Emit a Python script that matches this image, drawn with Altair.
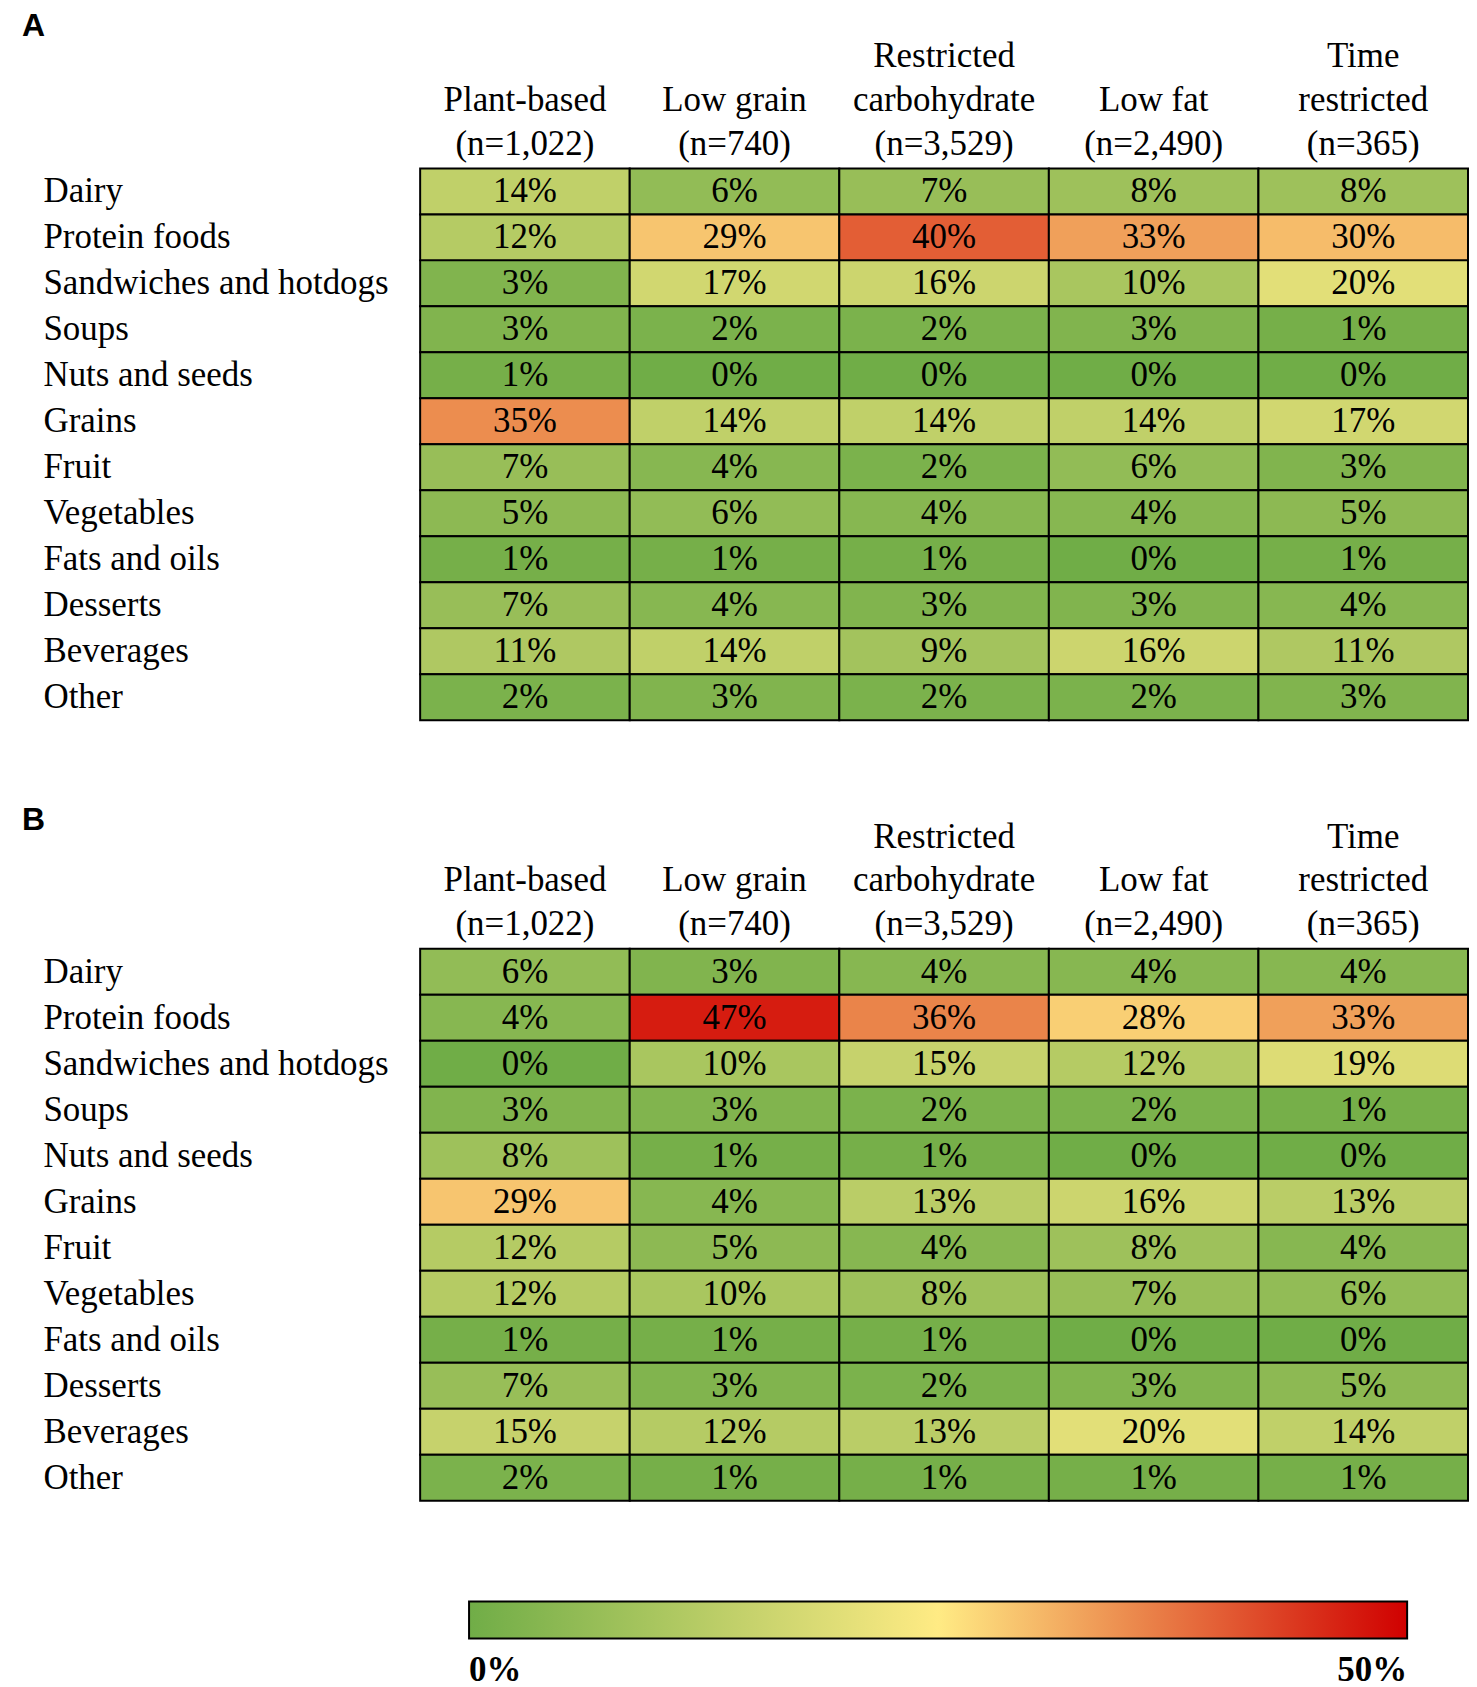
import altair as alt
import pandas as pd

categories = ["Dairy", "Protein foods", "Sandwiches and hotdogs", "Soups",
              "Nuts and seeds", "Grains", "Fruit", "Vegetables",
              "Fats and oils", "Desserts", "Beverages", "Other"]
# header lines separated by "|"; a leading "|" keeps two-line headers bottom-aligned
diets = ["|Plant-based|(n=1,022)", "|Low grain|(n=740)",
         "Restricted|carbohydrate|(n=3,529)", "|Low fat|(n=2,490)",
         "Time|restricted|(n=365)"]

panel_a = [
    [14, 6, 7, 8, 8],
    [12, 29, 40, 33, 30],
    [3, 17, 16, 10, 20],
    [3, 2, 2, 3, 1],
    [1, 0, 0, 0, 0],
    [35, 14, 14, 14, 17],
    [7, 4, 2, 6, 3],
    [5, 6, 4, 4, 5],
    [1, 1, 1, 0, 1],
    [7, 4, 3, 3, 4],
    [11, 14, 9, 16, 11],
    [2, 3, 2, 2, 3],
]
panel_b = [
    [6, 3, 4, 4, 4],
    [4, 47, 36, 28, 33],
    [0, 10, 15, 12, 19],
    [3, 3, 2, 2, 1],
    [8, 1, 1, 0, 0],
    [29, 4, 13, 16, 13],
    [12, 5, 4, 8, 4],
    [12, 10, 8, 7, 6],
    [1, 1, 1, 0, 0],
    [7, 3, 2, 3, 5],
    [15, 12, 13, 20, 14],
    [2, 1, 1, 1, 1],
]

color_domain = [0, 25, 50]
color_range = ["#70AD47", "#FFEB84", "#D00000"]
legend_values = [0, 50]

SERIF = "Liberation Serif"
FS = 35


def make_df(vals):
    rows = []
    for cat, row in zip(categories, vals):
        for d, v in zip(diets, row):
            rows.append({"category": cat, "diet": d, "value": v, "label": f"{v}%"})
    return pd.DataFrame(rows)


def panel(vals, letter, title_offset):
    df = make_df(vals)
    base = alt.Chart().encode(
        x=alt.X("diet:N", sort=diets,
                scale=alt.Scale(paddingInner=0, paddingOuter=0),
                axis=alt.Axis(orient="top", title=None, labelAngle=0,
                              labelExpr="split(datum.label, '|')",
                              labelFont=SERIF, labelFontSize=FS,
                              labelLineHeight=44, labelColor="black",
                              labelBaseline="top", labelPadding=130,
                              labelLimit=400, domain=False, ticks=False)),
        y=alt.Y("category:N", sort=categories,
                scale=alt.Scale(paddingInner=0, paddingOuter=0),
                axis=alt.Axis(title=None, labelAlign="left",
                              labelPadding=378, labelFont=SERIF,
                              labelFontSize=FS, labelColor="black",
                              labelLimit=500, domain=False, ticks=False)),
    )
    rect = base.mark_rect(stroke="black", strokeWidth=2).encode(
        color=alt.Color(
            "value:Q",
            scale=alt.Scale(domain=color_domain, range=color_range,
                            interpolate="rgb"),
            legend=alt.Legend(
                orient="none", direction="horizontal",
                legendX=49, legendY=1436,
                gradientLength=940, gradientThickness=37,
                gradientStrokeColor="black", gradientStrokeWidth=2,
                values=legend_values, labelExpr="datum.value + '%'",
                labelFont=SERIF, labelFontSize=FS, labelFontWeight="bold",
                labelColor="black", labelOffset=15, title=None),
        )
    )
    text = base.mark_text(font=SERIF, fontSize=FS, color="black").encode(
        text="label:N"
    )
    return alt.layer(rect, text, data=df).properties(
        width=1050, height=553,
        title=alt.TitleParams(text=letter, anchor="start", frame="bounds",
                              dx=-21, offset=title_offset,
                              font="Liberation Sans",
                              fontSize=32, fontWeight="bold", color="black"),
    )


chart = alt.vconcat(panel(panel_a, "A", -4), panel(panel_b, "B", -18),
                    spacing=83).resolve_scale(
    color="shared").resolve_legend(color="shared").properties(
    padding={"left": 14, "top": 0, "right": 0, "bottom": 0}
).configure_view(stroke=None)

chart.save("out.html", embed_options={"renderer": "svg", "actions": False})
